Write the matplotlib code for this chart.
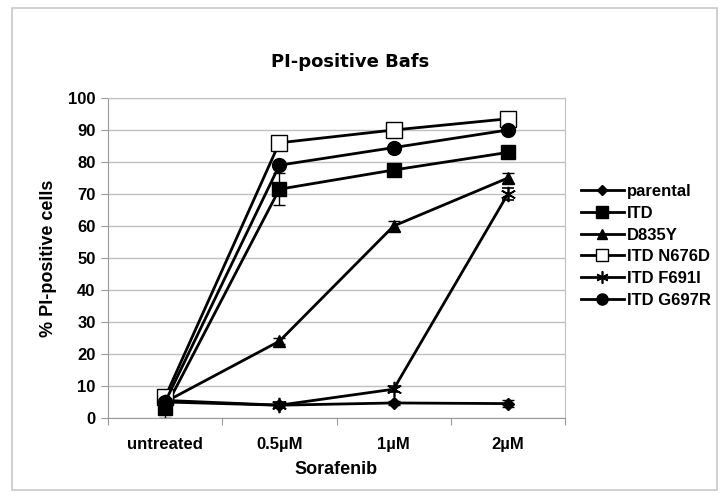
import matplotlib.pyplot as plt
from matplotlib.patches import Rectangle
from matplotlib.lines import Line2D

# data
doses = ["untreated", "0.5µM", "1µM", "2µM"]
parental = [5.5, 4.0, 4.7, 4.5]
itd = [3.0, 71.5, 77.5, 83.0]
d835y = [5.0, 24.0, 60.0, 75.0]
n676d = [6.5, 86.0, 90.0, 93.5]
f691i = [5.0, 4.0, 9.0, 70.0]
g697r = [5.0, 79.0, 84.5, 90.0]

itd_err = [3.0, 5.0, 1.0, 1.0]
d835y_err = [0.5, 1.0, 1.5, 1.5]
f691i_err = [0.5, 1.0, 1.0, 2.0]
parental_err = [0.5, 0.5, 0.5, 1.0]
n676d_err = [0.5, 0.5, 0.5, 0.5]
g697r_err = [0.5, 1.0, 0.5, 0.5]

plt.rcParams['font.family'] = ['Liberation Sans', 'DejaVu Sans']

fig = plt.figure(figsize=(7.24, 4.97), dpi=100)
fig.patches.append(Rectangle((12 / 724, 7 / 497), 705 / 724, 482 / 497,
                             transform=fig.transFigure, fill=False,
                             edgecolor='#c8c8c8', linewidth=1.2))
ax = fig.add_axes([108 / 724, 1 - 418 / 497, 457 / 724, 320 / 497])

x = list(range(len(doses)))
series = [
    ("parental", parental, parental_err, dict(marker='D', markersize=6, markerfacecolor='black')),
    ("ITD", itd, itd_err, dict(marker='s', markersize=10, markerfacecolor='black')),
    ("D835Y", d835y, d835y_err, dict(marker='^', markersize=9, markerfacecolor='black')),
    ("ITD N676D", n676d, n676d_err, dict(marker='s', markersize=11, markerfacecolor='white')),
    ("ITD F691I", f691i, f691i_err, dict(marker=(6, 2, 0), markersize=11, markerfacecolor='black', markeredgewidth=1.2)),
    ("ITD G697R", g697r, g697r_err, dict(marker='o', markersize=10, markerfacecolor='black')),
]

handles = []
for name, vals, err, style in series:
    kw = dict(color='black', linewidth=2, markeredgecolor='black')
    kw.update(style)
    ax.errorbar(x, vals, yerr=err, ecolor='black', elinewidth=1,
                capsize=4, capthick=1, **kw)
    leg_kw = dict(kw)
    leg_kw['markersize'] = style['markersize'] * 0.8
    handles.append(Line2D([], [], label=name, **leg_kw))

ax.set_xlim(-0.5, 3.5)
ax.set_ylim(0, 100)
ax.set_yticks(range(0, 101, 10))
ax.yaxis.grid(True, color='#c0c0c0', linewidth=1)
ax.set_axisbelow(True)
ax.set_xticks([i + 0.5 for i in range(-1, 4)], minor=False)
ax.set_xticklabels([])
ax.set_xticks(x, minor=True)
ax.set_xticklabels(doses, minor=True, fontsize=12, fontweight='bold')
ax.tick_params(axis='x', which='minor', length=0, pad=14)
ax.tick_params(axis='x', which='major', length=5, color='#999999', direction='out')
ax.tick_params(axis='y', length=5, color='#999999', labelsize=12, pad=4)
for lab in ax.get_yticklabels():
    lab.set_fontweight('bold')

for side in ['left', 'bottom']:
    ax.spines[side].set_color('#999999')
for side in ['right', 'top']:
    ax.spines[side].set_color('#c0c0c0')

ax.set_xlabel("Sorafenib", fontsize=13, fontweight='bold', labelpad=6)
ax.set_ylabel("% PI-positive cells", fontsize=13, fontweight='bold', labelpad=8)
fig.text(350 / 724, 1 - 62 / 497, "PI-positive Bafs", ha='center', va='center',
         fontsize=13, fontweight='bold', family='DejaVu Sans')

fig.legend(handles=handles, loc='center left',
           bbox_to_anchor=(574 / 724, 1 - 246 / 497), frameon=False,
           prop=dict(weight='bold', size=12), handlelength=2.6,
           handletextpad=0.2, labelspacing=0.4, borderaxespad=0)

fig.savefig("out.png", dpi=100)
